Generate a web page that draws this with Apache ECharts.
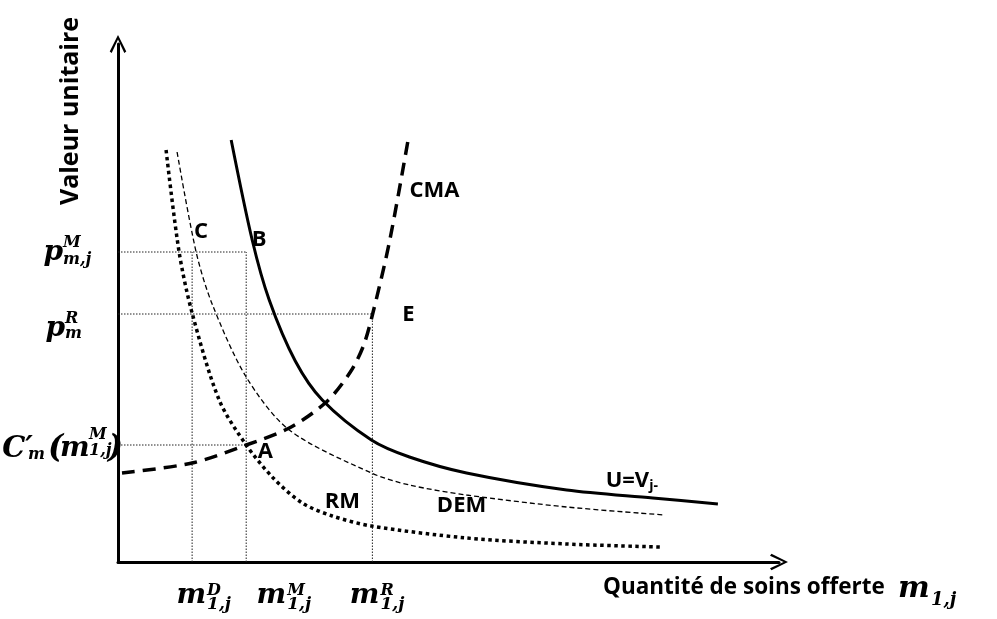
<!DOCTYPE html>
<html>
<head>
<meta charset="utf-8">
<script src="https://cdn.jsdelivr.net/npm/echarts@6/dist/echarts.min.js"></script>
<style>
html, body { margin: 0; padding: 0; background: #fff; }
#chart { width: 997px; height: 619px; }
</style>
</head>
<body>
<div id="chart"></div>
<script>
var courbeU = [[113,422],[134,322],[151,262],[177,201],[204,162],[253,122],[291,105],[348,89],[448,72],[534,64],[599,58]];
var courbeDEM = [[59,410],[78,310],[94,258],[128,185],[171,132],[253,89],[291,77],[348,67],[448,55],[546,47]];
var courbeRM = [[48,412],[61,310],[74,249],[101,162],[128,117],[155,84],[184,59],[214,46],[253,36],[348,24],[448,18],[541,15]];
var courbeCMA = [[4,89],[74,99],[128,117],[171,134],[208,160],[232,190],[245,216],[254,247],[271,320],[290,424]];

// graduations de l'axe des quantités
var xTickVals = [74, 128, 254];
var xTickParts = [['m', 'D', '1,j'], ['m', 'M', '1,j'], ['m', 'R', '1,j']];

// graduations de l'axe des valeurs
var yTickVals = [310, 248, 117];
var yTickParts = [
  ['p', 'M', 'm,j'],
  ['p', 'R', 'm'],
  ['C′', 'm', '(', 'm', 'M', '1,j', ')']
];

// pointillés : [indice graduation x, indice graduation y]
var guidePairs = [[0, 0], [1, 0], [1, 2], [2, 1]];

// étiquettes des points et des courbes
var pointNames = ['A', 'B', 'C', 'E', 'CMA', 'RM', 'DEM', 'U=Vj-'];
var pointAt = [[147,110],[141,322],[83,330],[290,247],[316,371],[224,60],[343,56],[513,81]];

var MATH = '"DejaVu Serif", serif';
var SANS = '"Open Sans", Lato, sans-serif';

function piece(txt, x, y, size, align) {
  return {
    type: 'text',
    style: {
      text: txt, x: x, y: y,
      font: 'italic bold ' + size + 'px ' + MATH,
      fill: '#000',
      textAlign: align, textVerticalAlign: 'middle',
      align: align, verticalAlign: 'middle'
    }
  };
}

// mise en page des étiquettes mathématiques : [dx, dy, taille, alignement]
var xShift = [14, 40, 7];
var yLayout = [
  [[-55,1,28,'right'],[-55,-9,16,'left'],[-55,8,16,'left']],
  [[-53,15,28,'right'],[-53,5,16,'left'],[-53,20,16,'left']],
  [[-85,4,29,'right'],[-90,10,16,'left'],[-70,4,32,'left'],[-58,4,28,'left'],[-29,-10,16,'left'],[-29,6,16,'left'],[-10,4,32,'left']]
];

function renderXTick(params, api) {
  var i = params.dataIndex;
  var p = api.coord([api.value(0), 0]);
  var ax = p[0] + xShift[i];
  var parts = xTickParts[i];
  return {
    type: 'group',
    children: [
      piece(parts[0], ax, p[1] + 34, 28, 'right'),
      piece(parts[1], ax + 1, p[1] + 29, 16, 'left'),
      piece(parts[2], ax + 1, p[1] + 43, 17, 'left')
    ]
  };
}

function renderYTick(params, api) {
  var i = params.dataIndex;
  var p = api.coord([0, api.value(1)]);
  var parts = yTickParts[i];
  var lay = yLayout[i];
  return {
    type: 'group',
    children: parts.map(function (t, k) {
      var l = lay[k];
      return piece(t, p[0] + l[0], p[1] + l[1], l[2], l[3]);
    })
  };
}

function curve(name, data, style) {
  return {
    name: name, type: 'line', data: data, smooth: 0.3,
    showSymbol: false, symbol: 'none', silent: true,
    lineStyle: style, z: 3
  };
}

// un seul trait par graduation (le plus long) pour éviter les doublons
var vTop = {}, hEnd = {};
guidePairs.forEach(function (g) {
  var xv = xTickVals[g[0]], yv = yTickVals[g[1]];
  vTop[xv] = Math.max(vTop[xv] || 0, yv);
  hEnd[yv] = Math.max(hEnd[yv] || 0, xv);
});
var guideStyle = { color: '#222', width: 1, type: [1.5, 1.5] };
var guides = [];
xTickVals.forEach(function (xv) {
  if (vTop[xv]) guides.push(curve('', [[xv, 0], [xv, vTop[xv]]], guideStyle));
});
yTickVals.forEach(function (yv) {
  if (hEnd[yv]) guides.push(curve('', [[0, yv], [hEnd[yv], yv]], guideStyle));
});
guides.forEach(function (s) { s.smooth = false; s.z = 2; });

var arrow = 'path://M8.5,0 L17,17 L15,18.5 L8.5,4.5 L2,18.5 L0,17 Z';

var chart = echarts.init(document.getElementById('chart'));
chart.setOption({
  animation: false,
  backgroundColor: '#fff',
  grid: { left: 118, right: 218, top: 44, bottom: 57, containLabel: false, outerBoundsMode: 'none' },
  xAxis: {
    type: 'value', min: 0, max: 660,
    axisLine: { show: true, onZero: false, symbol: ['none', arrow], symbolSize: [18, 18],
      lineStyle: { color: '#000', width: 3 } },
    axisTick: { show: false }, axisLabel: { show: false }, splitLine: { show: false }
  },
  yAxis: {
    type: 'value', min: 0, max: 518,
    axisLine: { show: true, onZero: false, symbol: ['none', arrow], symbolSize: [18, 18],
      lineStyle: { color: '#000', width: 3 } },
    axisTick: { show: false }, axisLabel: { show: false }, splitLine: { show: false }
  },
  graphic: [
    {
      type: 'text', x: 71, y: 111, rotation: Math.PI / 2,
      style: { text: 'Valeur unitaire', font: 'bold 25px ' + SANS, fill: '#000',
        textAlign: 'center', textVerticalAlign: 'middle', align: 'center', verticalAlign: 'middle' }
    },
    {
      type: 'text',
      style: { text: 'Quantité de soins offerte', x: 603, y: 588, font: 'bold 22.5px ' + SANS, fill: '#000',
        textAlign: 'left', textVerticalAlign: 'middle', align: 'left', verticalAlign: 'middle' }
    },
    piece('m', 898, 589, 30, 'left'),
    piece('1,j', 931, 600, 18, 'left')
  ],
  series: guides.concat([
    curve('U=Vj-', courbeU, { color: '#000', width: 3 }),
    curve('DEM', courbeDEM, { color: '#000', width: 1.3, type: [5, 3] }),
    curve('RM', courbeRM, { color: '#000', width: 3.5, type: [3.5, 3.5], cap: 'butt' }),
    curve('CMA', courbeCMA, { color: '#000', width: 3.5, type: [13, 8], cap: 'butt' }),
    {
      type: 'scatter', symbolSize: 0, silent: true, z: 5,
      itemStyle: { opacity: 1, color: '#000' },
      data: pointNames.map(function (n, i) { return { name: n, value: pointAt[i] }; }),
      label: {
        show: true, position: 'inside', color: '#000', opacity: 1,
        fontFamily: SANS, fontWeight: 'bold', fontSize: 22,
        formatter: function (p) {
          return p.name === 'U=Vj-' ? '{b|U=V}{s|j-}' : p.name;
        },
        rich: {
          b: { fontFamily: SANS, fontWeight: 'bold', fontSize: 22, color: '#000' },
          s: { fontFamily: SANS, fontWeight: 'bold', fontSize: 14, color: '#000', padding: [10, 0, 0, 0] }
        }
      }
    },
    {
      type: 'custom', renderItem: renderXTick, clip: false, silent: true, z: 6,
      data: xTickVals.map(function (v) { return [v, 0]; })
    },
    {
      type: 'custom', renderItem: renderYTick, clip: false, silent: true, z: 6,
      data: yTickVals.map(function (v) { return [0, v]; })
    }
  ])
});
</script>
</body>
</html>
